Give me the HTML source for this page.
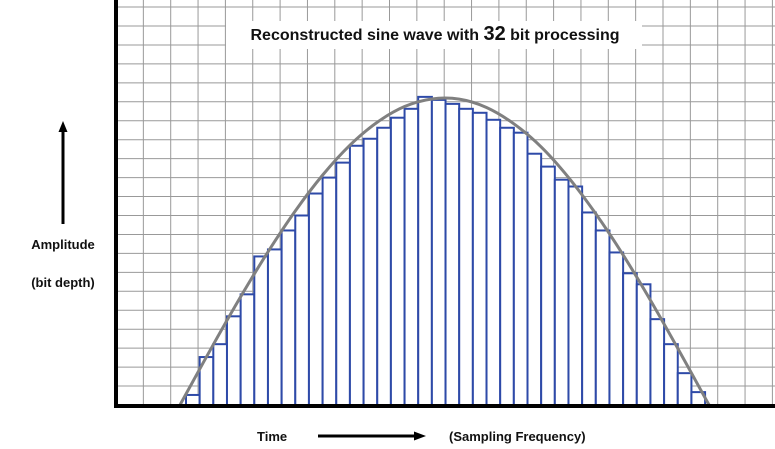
<!DOCTYPE html>
<html><head><meta charset="utf-8"><style>
html,body{margin:0;padding:0;background:#fff;}
svg{display:block;font-family:"Liberation Sans",Arial,sans-serif;}
</style></head><body>
<svg id="chart" width="775" height="449" viewBox="0 0 775 449" xmlns="http://www.w3.org/2000/svg">
<g id="grid"></g>
<rect x="226" y="21" width="416" height="28" fill="#fff"/>
<text x="435" y="40" text-anchor="middle" font-size="16" font-weight="bold" fill="#111">Reconstructed sine wave with <tspan font-size="20">32</tspan> bit processing</text>
<g id="bars"></g>
<path id="curve" fill="none" stroke="#808080" stroke-width="3"/>
<line x1="116" y1="0" x2="116" y2="408" stroke="#000" stroke-width="4"/>
<line x1="114" y1="406" x2="775" y2="406" stroke="#000" stroke-width="4"/>
<g>
<line x1="63" y1="224" x2="63" y2="130" stroke="#000" stroke-width="3"/>
<polygon points="63,121 58.5,132 67.5,132" fill="#000"/>
</g>
<text x="63" y="249" text-anchor="middle" font-size="13" font-weight="bold" fill="#111">Amplitude</text>
<text x="63" y="287" text-anchor="middle" font-size="13" font-weight="bold" fill="#111">(bit depth)</text>
<text x="257" y="441" font-size="13" font-weight="bold" fill="#111">Time</text>
<g>
<line x1="318" y1="436" x2="415" y2="436" stroke="#000" stroke-width="3"/>
<polygon points="426,436 414,431.5 414,440.5" fill="#000"/>
</g>
<text x="449" y="441" font-size="13" font-weight="bold" fill="#111">(Sampling Frequency)</text>
</svg>
<script>
// sample amplitudes (grid units) for each bar
const barValues = [0.53,2.53,3.21,4.68,5.84,7.84,8.21,9.21,10.0,11.16,12.0,12.79,13.68,14.05,14.63,15.16,15.63,16.26,16.1,15.89,15.63,15.42,15.05,14.63,14.37,13.26,12.58,11.89,11.53,10.16,9.21,8.05,6.95,6.37,4.53,3.21,1.68,0.68];
// continuous curve samples: position in bar-index units, amplitude in grid units
const curveX = [-0.44,0,2,4,6,8,10,12,14,16,18,20,22,24,26,28,30,32,34,36,38,38.3];
const curveY = [0,0.58,3.19,5.71,8.08,10.24,12.13,13.71,14.92,15.75,16.15,16.14,15.70,14.84,13.62,12.01,10.09,7.92,5.53,2.99,0.38,0];

const NS="http://www.w3.org/2000/svg";
const x0=186, barW=13.66, y0=405, unit=18.95;
function xScale(i){return x0+i*barW;}
function yScale(v){return y0-v*unit;}

const grid=document.getElementById('grid');
for(let x=116+27.35;x<775;x+=27.35){
  const l=document.createElementNS(NS,'line');
  
  
  l.setAttribute('x1',x);l.setAttribute('x2',x);l.setAttribute('y1',0);l.setAttribute('y2',405);
  l.setAttribute('stroke','#999');l.setAttribute('stroke-width','1');
  grid.appendChild(l);
}
for(let y=405-unit;y>0;y-=unit){
  const l=document.createElementNS(NS,'line');
  
  
  l.setAttribute('x1',116);l.setAttribute('x2',775);l.setAttribute('y1',y);l.setAttribute('y2',y);
  l.setAttribute('stroke','#999');l.setAttribute('stroke-width','1');
  grid.appendChild(l);
}

const bars=document.getElementById('bars');
barValues.forEach((v,i)=>{
  const r=document.createElementNS(NS,'rect');
  
  
  const top=yScale(v);
  r.setAttribute('x',xScale(i));r.setAttribute('y',top);
  r.setAttribute('width',barW);r.setAttribute('height',y0-top);
  r.setAttribute('fill','#fff');r.setAttribute('stroke','#2e4aa8');r.setAttribute('stroke-width','2');
  bars.appendChild(r);
});

// Catmull-Rom smooth curve through samples
const pts=curveX.map((c,i)=>[xScale(c),yScale(curveY[i])]);
let d='M'+pts[0][0]+','+pts[0][1];
for(let i=0;i<pts.length-1;i++){
  const p0=pts[i-1]||pts[i],p1=pts[i],p2=pts[i+1],p3=pts[i+2]||p2;
  const c1=[p1[0]+(p2[0]-p0[0])/6,p1[1]+(p2[1]-p0[1])/6];
  const c2=[p2[0]-(p3[0]-p1[0])/6,p2[1]-(p3[1]-p1[1])/6];
  d+=' C'+c1[0]+','+c1[1]+' '+c2[0]+','+c2[1]+' '+p2[0]+','+p2[1];
}
document.getElementById('curve').setAttribute('d',d);
</script>
</body></html>
